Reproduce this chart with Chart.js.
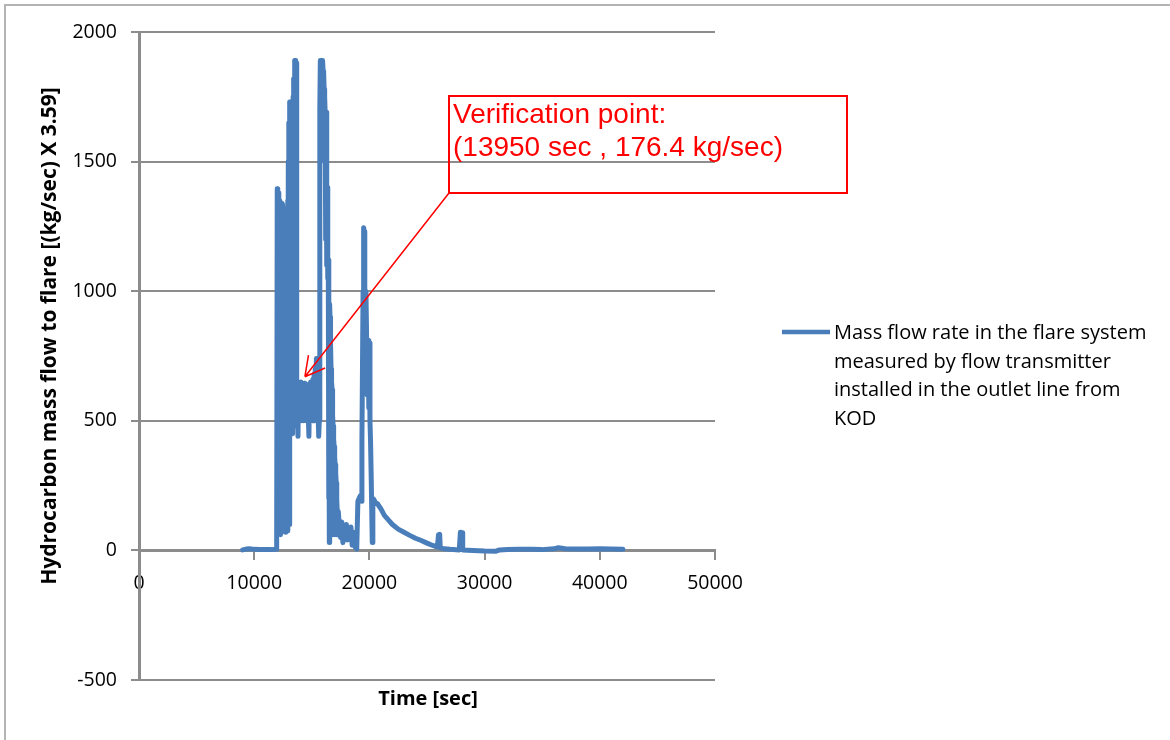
<!DOCTYPE html>
<html>
<head>
<meta charset="utf-8">
<title>Hydrocarbon mass flow to flare</title>
<script src="https://cdn.jsdelivr.net/npm/chart.js@4.4.1/dist/chart.umd.min.js"></script>
<style>
  html, body { margin: 0; padding: 0; background: #fff; overflow: hidden; }
  #frame { position: absolute; left: 4px; top: 4px; width: 1200px; height: 800px; border-left: 2px solid #b4b4b4; border-top: 2px solid #b4b4b4; }
  #chart { position: absolute; left: 0; top: 0; }
</style>
</head>
<body>
<div id="frame"></div>
<canvas id="chart" width="1170" height="740"></canvas>
<script>
// Flow transmitter record
const timeSec = [
  9000, 9300, 9600, 10000, 10500, 11000, 11500, 11900,
  11950, 12000, 12030, 12060, 12090, 12120, 12150, 12180, 12210, 12240,
  12270, 12300, 12330, 12360, 12390, 12420, 12450, 12480, 12510, 12540,
  12570, 12600, 12630, 12660, 12690, 12720, 12750, 12780, 12810, 12840,
  12870, 12900, 12930, 12960, 12990, 13020, 13050, 13080, 13110, 13140,
  13170, 13200, 13230, 13260, 13290, 13320, 13350, 13380, 13410, 13440,
  13470, 13500, 13530, 13560, 13590, 13620, 13650, 13680,
  13700, 13750, 13800, 13850, 13900, 13950, 14000, 14050, 14100, 14150,
  14200, 14250, 14300, 14350, 14400, 14450, 14500, 14550, 14600, 14650,
  14700, 14750, 14800, 14850, 14900, 14950, 15000, 15050, 15100, 15150,
  15200, 15250, 15300, 15350, 15400, 15450, 15500, 15550, 15600,
  15650, 15680, 15710, 15740, 15770, 15800, 15830, 15860, 15890, 15920,
  15950, 15980, 16010, 16040, 16070, 16100, 16130, 16160, 16190, 16220,
  16250, 16280, 16310, 16340, 16370, 16400, 16430, 16460, 16490, 16520,
  16550, 16580, 16610, 16640, 16670, 16700, 16730, 16760, 16790, 16820,
  16850, 16880, 16910, 16940, 16970, 17000, 17030, 17060, 17090, 17120,
  17150, 17180, 17210, 17250, 17300,
  17400, 17500, 17600, 17700, 17800, 17900, 18000, 18100, 18200, 18300,
  18400, 18500, 18600, 18700, 18800, 18900,
  19000, 19100, 19200, 19300, 19350, 19450, 19500, 19550, 19600, 19700,
  19750, 19800, 19850, 19900, 19950, 20000, 20050, 20100, 20150, 20250,
  20300, 20400, 20500,
  20700, 21000, 21300, 21700, 22000, 22500, 23000, 23500, 24000, 24500,
  25000, 25500, 25900, 26000, 26100, 26150, 26500, 27000, 27800, 27900,
  28050, 28100, 28500, 29000, 30000, 31000, 31300, 32000, 33000, 34000,
  35000, 36000, 36400, 37000, 38000, 39000, 40000, 41000, 42000,
];

const flowRate = [
  2, 5, 6, 4, 3, 3, 3, 4,
  5, 1395, 60, 1390, 100, 1380, 80, 1350, 200, 1340,
  60, 1300, 150, 1340, 90, 1330, 250, 1335, 120, 1320,
  80, 1250, 300, 1310, 70, 1200, 150, 1300, 80, 1250,
  400, 1350, 75, 1500, 200, 1650, 100, 1730, 450, 1730,
  500, 1700, 480, 1500, 600, 1650, 450, 1750, 550, 1820,
  480, 1890, 650, 1890, 500, 1890, 700, 1880,
  520, 640, 440, 630, 510, 633, 520, 650, 500, 640,
  520, 630, 500, 645, 510, 630, 500, 640, 520, 630,
  510, 440, 640, 500, 650, 520, 630, 500, 660, 510,
  680, 500, 700, 520, 740, 500, 700, 520, 440,
  500, 1200, 1700, 1890, 1500, 1890, 1700, 1890, 1880, 1800,
  1890, 1850, 1750, 1850, 1780, 1700, 1750, 1690, 1690, 1200,
  1650, 1690, 1100, 1400, 1150, 1050, 1120, 200, 1000, 30,
  950, 900, 300, 800, 700, 150, 650, 620, 60, 520,
  480, 100, 430, 400, 60, 360, 330, 80, 300, 260,
  60, 200, 150, 60, 150,
  90, 50, 110, 30, 90, 70, 100, 40, 80, 60,
  90, 20, 70, 40, 10, 5,
  190, 200, 210, 190, 420, 1000, 1245, 1230, 700, 1000,
  850, 600, 813, 810, 550, 800, 500, 420, 300, 30,
  200, 196, 185,
  180, 160, 135, 115, 100, 82, 70, 58, 47, 38,
  28, 19, 13, 60, 62, 10, 6, 4, 2, 70,
  68, 2, 1, 0, -2, -3, 2, 3, 4, 4,
  3, 6, 10, 6, 5, 5, 6, 5, 4,
];

const xTicks = [0, 10000, 20000, 30000, 40000, 50000];
const yTicks = [-500, 0, 500, 1000, 1500, 2000];

const seriesLabel = "Mass flow rate in the flare system measured by flow transmitter installed in the outlet line from KOD";
const legendLines = [
  "Mass flow rate in the flare system",
  "measured by flow transmitter",
  "installed in the outlet line from",
  "KOD",
];
const calloutLines = ["Verification point:", "(13950 sec , 176.4 kg/sec)"];
const calloutTarget = { x: 14400, y: 670 };
const xTitle = "Time [sec]";
const yTitle = "Hydrocarbon mass flow to flare [(kg/sec) X 3.59]";

const lineColor = "#4a7ebb";
const axisColor = "#8c8c8c";
const tickFont = { family: "'Open Sans'", size: 19.5 };

const overlay = {
  id: "overlay",
  afterDraw(chart) {
    const { ctx, scales } = chart;
    ctx.save();

    // axis titles
    ctx.fillStyle = "#000";
    ctx.textAlign = "center";
    ctx.textBaseline = "middle";
    ctx.font = "bold 21px 'Open Sans'";
    ctx.save();
    ctx.translate(50, 336);
    ctx.rotate(-Math.PI / 2);
    ctx.fillText(yTitle, 0, 0);
    ctx.restore();
    ctx.font = "bold 20px 'Open Sans'";
    ctx.fillText(xTitle, 428, 699);

    // legend
    ctx.strokeStyle = lineColor;
    ctx.lineWidth = 4.5;
    ctx.beginPath();
    ctx.moveTo(782, 332);
    ctx.lineTo(830, 332);
    ctx.stroke();
    ctx.font = "20px 'Open Sans'";
    ctx.textAlign = "left";
    ctx.textBaseline = "alphabetic";
    legendLines.forEach((text, i) => ctx.fillText(text, 834, 339 + i * 28.5));

    // callout
    ctx.strokeStyle = "#ff0000";
    ctx.fillStyle = "#ff0000";
    ctx.lineWidth = 2;
    ctx.strokeRect(449, 96, 398, 97);
    ctx.font = "28px 'Liberation Sans'";
    calloutLines.forEach((text, i) => ctx.fillText(text, 453, 123 + i * 33));

    const tipX = scales.x.getPixelForValue(calloutTarget.x);
    const tipY = scales.y.getPixelForValue(calloutTarget.y);
    const angle = Math.atan2(193 - tipY, 449 - tipX);
    ctx.lineWidth = 1.5;
    ctx.beginPath();
    ctx.moveTo(449, 193);
    ctx.lineTo(tipX, tipY);
    [-0.5, 0.5].forEach((spread) => {
      ctx.moveTo(tipX, tipY);
      ctx.lineTo(tipX + 22 * Math.cos(angle + spread), tipY + 22 * Math.sin(angle + spread));
    });
    ctx.stroke();

    ctx.restore();
  },
};

new Chart(document.getElementById("chart"), {
  type: "scatter",
  data: {
    datasets: [
      {
        label: seriesLabel,
        data: timeSec.map((t, i) => ({ x: t, y: flowRate[i] })),
        showLine: true,
        borderColor: lineColor,
        backgroundColor: lineColor,
        borderWidth: 5,
        borderJoinStyle: "round",
        borderCapStyle: "round",
        pointRadius: 0,
        tension: 0,
      },
    ],
  },
  options: {
    responsive: false,
    animation: false,
    devicePixelRatio: 1,
    layout: { padding: { left: 0, top: 32, right: 455, bottom: 60 } },
    plugins: { legend: { display: false }, tooltip: { enabled: false } },
    scales: {
      x: {
        type: "linear",
        position: { y: 0 },
        min: 0,
        max: 50000,
        afterBuildTicks: (scale) => {
          scale.ticks = xTicks.map((value) => ({ value }));
        },
        grid: { drawOnChartArea: false, color: axisColor, lineWidth: 2, tickLength: 8 },
        border: { color: axisColor, width: 3 },
        ticks: { font: tickFont, color: "#000", padding: 13, maxRotation: 0, callback: (value) => String(value) },
      },
      y: {
        type: "linear",
        min: -500,
        max: 2000,
        afterBuildTicks: (scale) => {
          scale.ticks = yTicks.map((value) => ({ value }));
        },
        afterFit: (scale) => {
          scale.width = 139;
        },
        grid: { color: axisColor, lineWidth: 2, tickLength: 8 },
        border: { color: axisColor, width: 3 },
        ticks: { font: tickFont, color: "#000", padding: 14, callback: (value) => String(value) },
      },
    },
  },
  plugins: [overlay],
});
</script>
</body>
</html>
